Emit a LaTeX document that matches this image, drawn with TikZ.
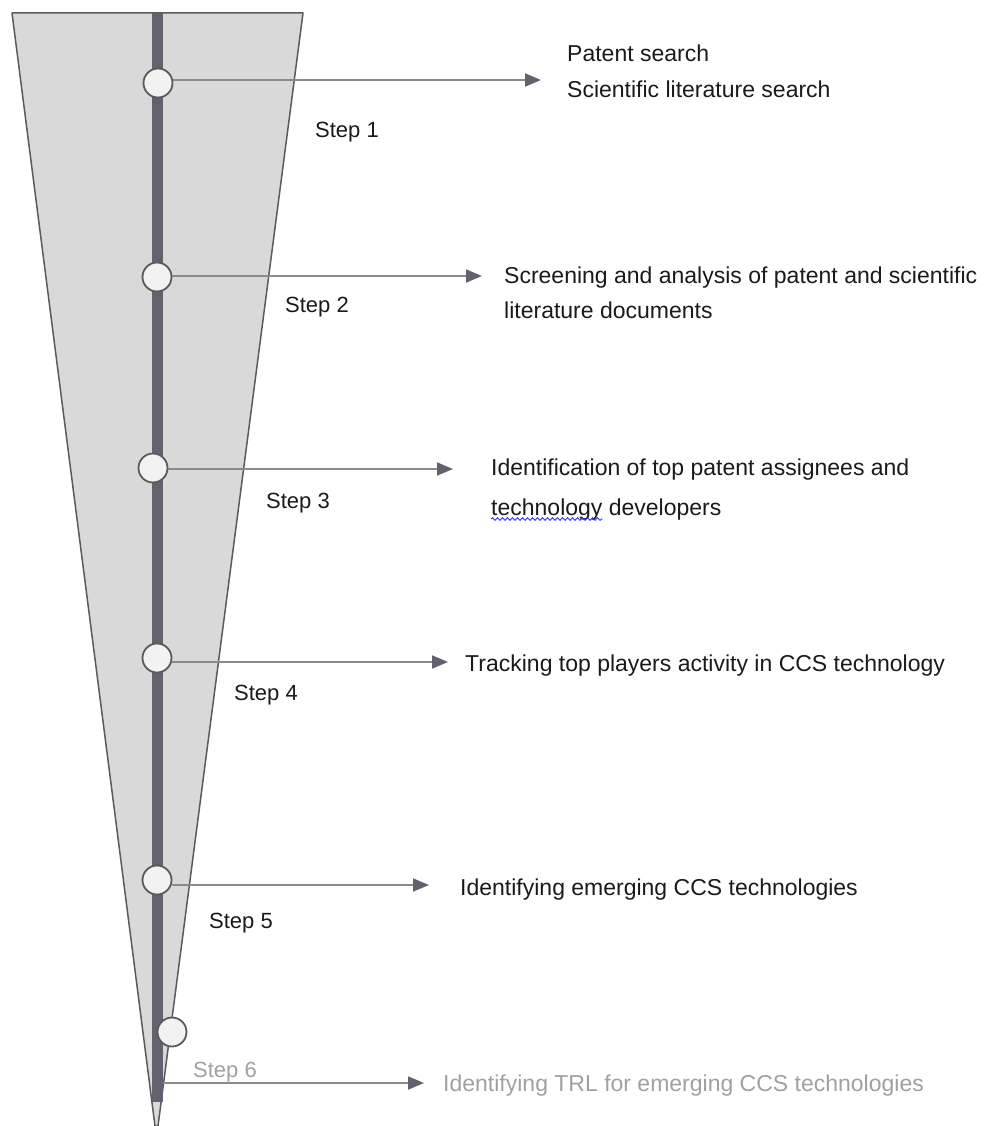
\documentclass[tikz,border=0pt]{standalone}
\usepackage{fontspec}
\setmainfont{Liberation Sans}
\usetikzlibrary{arrows.meta,decorations.pathmorphing}
\definecolor{funnel}{HTML}{D9D9D9}
\definecolor{edge}{HTML}{5A5A5A}
\definecolor{barc}{HTML}{62626E}
\definecolor{dot}{HTML}{F2F2F2}
\definecolor{arrowc}{HTML}{8A8A8A}
\definecolor{txt}{HTML}{1A1A1A}
\definecolor{faint}{HTML}{A0A0A0}
\tikzset{
  dotnode/.style={circle,draw=edge,line width=1.8pt,fill=dot,minimum size=29pt,inner sep=0pt},
  conn/.style={draw=arrowc,line width=1.8pt,-{Triangle[length=16pt,width=13pt,fill=barc,color=barc]}},
  label/.style={anchor=base west,inner sep=0pt,text=txt,font=\fontsize{23}{40}\selectfont},
  steplbl/.style={anchor=base west,inner sep=0pt,text=txt,font=\fontsize{22}{24}\selectfont},
  wavy/.style={draw=blue!80,line width=0.9pt,decorate,decoration={snake,amplitude=1.3pt,segment length=5pt}},
}
\begin{document}
\begin{tikzpicture}[x=1pt,y=-1pt]
\useasboundingbox (0,0) rectangle (994,1126);
% funnel
\draw[fill=funnel,draw=edge,line width=1.5pt,line join=round] (12,13) -- (303,13) -- (158,1126) -- (155,1126) -- cycle;
% central bar
\fill[barc] (152,13) rectangle (163,1102);
% circles
\node[dotnode] (c1) at (158,83) {};
\node[dotnode] (c2) at (157,277) {};
\node[dotnode] (c3) at (153,468) {};
\node[dotnode] (c4) at (157,658) {};
\node[dotnode] (c5) at (157,880) {};
\node[dotnode] (c6) at (172,1032) {};
\coordinate (s6) at (163,1083);
% arrow end points
\coordinate (e1) at (541,80);
\coordinate (e2) at (482,276);
\coordinate (e3) at (453,469);
\coordinate (e4) at (448,662);
\coordinate (e5) at (429,885);
\coordinate (e6) at (424,1083);
\draw[conn] (c1.east |- e1) -- (e1);
\draw[conn] (c2.east |- e2) -- (e2);
\draw[conn] (c3.east |- e3) -- (e3);
\draw[conn] (c4.east |- e4) -- (e4);
\draw[conn] (c5.east |- e5) -- (e5);
\draw[conn] (s6) -- (e6);
% step labels
\node[steplbl] (l1) at (315,138) {Step 1};
\node[steplbl] (l2) at (285,312) {Step 2};
\node[steplbl] (l3) at (266,508) {Step 3};
\node[steplbl] (l4) at (234,700) {Step 4};
\node[steplbl] (l5) at (209,928) {Step 5};
\node[steplbl,text=faint] (l6) at (193,1077) {Step 6};
% texts
\node[label] (t1a) at (567,62) {Patent search};
\node[label] (t1b) at (567,98) {Scientific literature search};
\node[label] (t2a) at (504,283) {Screening and analysis of patent and scientific};
\node[label] (t2b) at (504,318) {literature documents};
\node[label] (t3a) at (491,475) {Identification of top patent assignees and};
\node[label] (t3b) at (491,515) {\phantom{technology} developers};
\node[label] (t3c) at (491,515) {technology};
\path[wavy] ([yshift=-4pt]t3c.base west) -- ([yshift=-4pt]t3c.base east);
\node[label] (t4) at (465,671) {Tracking top players activity in CCS technology};
\node[label] (t5) at (460,895) {Identifying emerging CCS technologies};
\node[label,text=faint] (t6) at (443,1091) {Identifying TRL for emerging CCS technologies};
\end{tikzpicture}
\end{document}
